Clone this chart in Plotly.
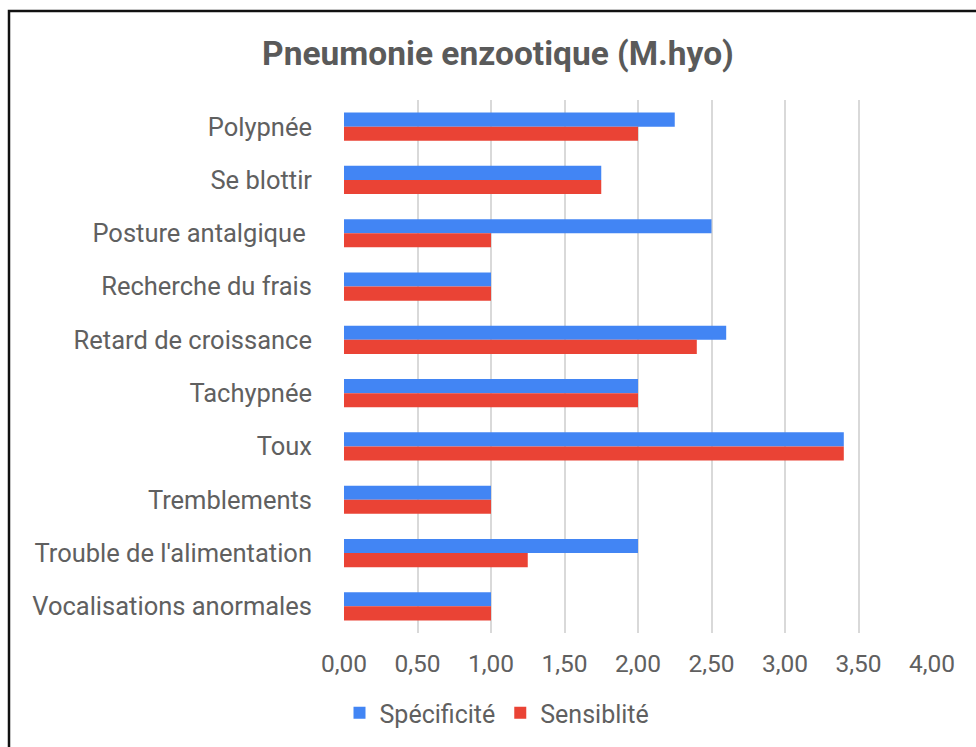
import plotly.graph_objects as go

categories = ["Polypnée", "Se blottir", "Posture antalgique ", "Recherche du frais",
              "Retard de croissance", "Tachypnée", "Toux", "Tremblements",
              "Trouble de l'alimentation", "Vocalisations anormales"]
specificite = [2.25, 1.75, 2.5, 1.0, 2.6, 2.0, 3.4, 1.0, 2.0, 1.0]
sensibilite = [2.0, 1.75, 1.0, 1.0, 2.4, 2.0, 3.4, 1.0, 1.25, 1.0]
tick_vals = [0, 0.5, 1, 1.5, 2, 2.5, 3, 3.5, 4]

W, H = 976, 747
L, R, T, B = 344, 44, 100, 114
pw, ph = W - L - R, H - T - B

def px(x):
    return (x - L) / pw

def py(y):
    return (H - B - y) / ph

FONT = "Roboto"
TXT = "#606060"
fig = go.Figure()
fig.add_trace(go.Bar(y=categories, x=specificite, orientation="h", name="Spécificité",
                     marker=dict(color="#4285F4", line=dict(width=0))))
fig.add_trace(go.Bar(y=categories, x=sensibilite, orientation="h", name="Sensiblité",
                     marker=dict(color="#EA4335", line=dict(width=0))))

fig.update_layout(
    width=W, height=H,
    margin=dict(l=L, r=R, t=T, b=B, autoexpand=False),
    paper_bgcolor="white", plot_bgcolor="white",
    separators=", ",
    barmode="group", bargap=0.47, bargroupgap=0,
    font=dict(family=FONT, color=TXT),
    title=dict(text="<b>Pneumonie enzootique (M.hyo)</b>", font=dict(size=33.5, color="#5a5a5a", family=FONT),
               x=px(498), xref="paper", xanchor="center", y=1 - 53 / H, yref="container", yanchor="middle"),
    xaxis=dict(range=[0, 4], tickvals=tick_vals, tickformat=".2f", showgrid=True,
               gridcolor="#d9d9d9", gridwidth=1.5, zeroline=False, showline=False,
               tickfont=dict(size=24.5, color=TXT), ticks="", ticklabelstandoff=13),
    yaxis=dict(autorange="reversed", showgrid=False, zeroline=False, showline=False, ticks="",
               tickfont=dict(size=25.5, color=TXT), ticklabelstandoff=31),
    legend=dict(orientation="h", x=px(497), xanchor="center", y=py(713), yanchor="middle",
                font=dict(size=25, color=TXT), itemsizing="constant", bgcolor="rgba(0,0,0,0)",
                traceorder="normal", entrywidth=0),
    shapes=[dict(type="rect", xref="paper", yref="paper",
                 x0=px(9), x1=px(1010), y0=py(800), y1=py(11),
                 line=dict(color="#111111", width=2.5), fillcolor="rgba(0,0,0,0)", layer="above")],
)

fig.write_html("out.html", config={"displayModeBar": False},
               post_script="document.body.style.margin='0';document.body.style.overflow='hidden';")
